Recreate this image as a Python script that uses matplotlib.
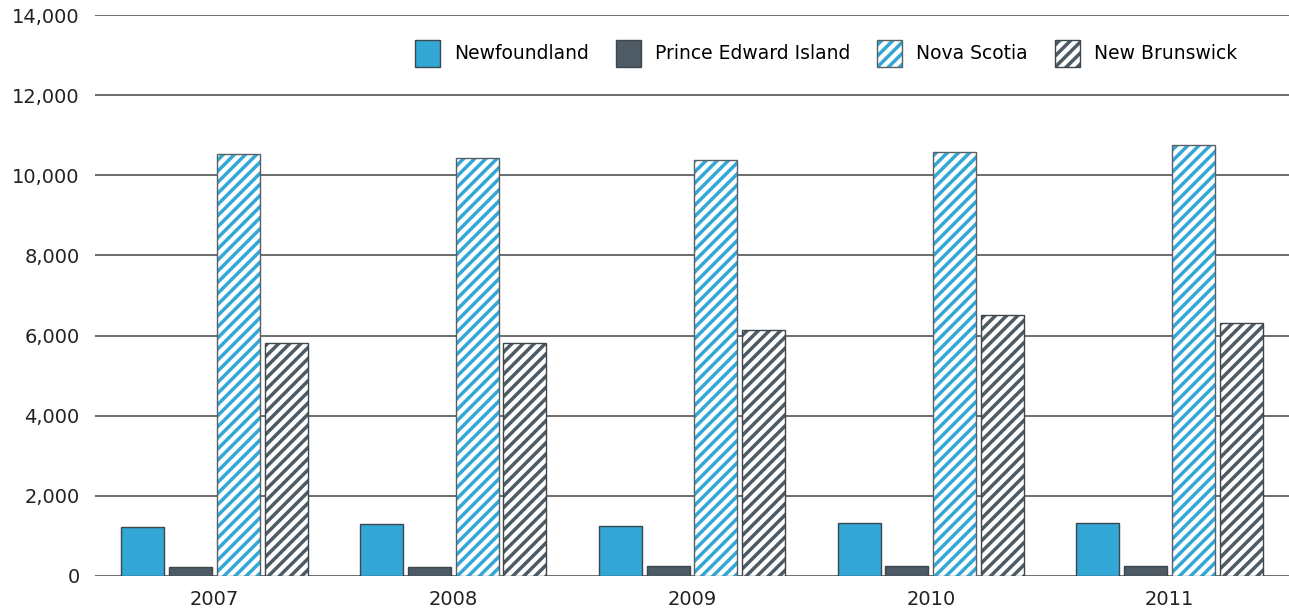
import numpy as np
import matplotlib.pyplot as plt
from matplotlib.patches import Patch
from matplotlib.legend_handler import HandlerTuple

plt.rcParams['font.family'] = ['DejaVu Sans']
plt.rcParams['hatch.linewidth'] = 2.5

years = ['2007', '2008', '2009', '2010', '2011']
newfoundland = [1220, 1300, 1250, 1320, 1320]
pei = [225, 225, 250, 250, 250]
nova_scotia = [10530, 10440, 10390, 10590, 10760]
new_brunswick = [5820, 5820, 6140, 6520, 6320]

blue = '#33a7d6'
slate = '#4e5b64'
outline = '#3b464d'

fig = plt.figure(figsize=(12.89, 6.13), dpi=100)
ax = fig.add_axes([0.0737, 0.0604, 0.9263, 0.9151])

x = np.arange(len(years))
w = 0.18

ax.bar(x - 0.3, newfoundland, w, color=blue, edgecolor=outline, linewidth=1, zorder=3)
ax.bar(x - 0.1, pei, w, color=slate, edgecolor=outline, linewidth=1, zorder=3)
# hatched bars: hatch colour comes from edgecolor, so the outline is drawn on top
ax.bar(x + 0.1, nova_scotia, w, color='white', edgecolor=blue, hatch='///', linewidth=0, zorder=3)
ax.bar(x + 0.1, nova_scotia, w, fill=False, edgecolor='#5a5f63', linewidth=1, zorder=4)
ax.bar(x + 0.3, new_brunswick, w, color='white', edgecolor=slate, hatch='///', linewidth=0, zorder=3)
ax.bar(x + 0.3, new_brunswick, w, fill=False, edgecolor=outline, linewidth=1, zorder=4)

ax.set_xlim(-0.5, 4.5)
ax.set_ylim(0, 14000)
ax.set_xticks(x)
ax.set_xticklabels(years)
yt = np.arange(0, 14001, 2000)
ax.set_yticks(yt)
ax.set_yticklabels([f'{v:,}' for v in yt])
ax.tick_params(axis='both', length=0, labelsize=14, colors='#222222')
ax.tick_params(axis='y', pad=11)
ax.tick_params(axis='x', pad=10)
for s in ax.spines.values():
    s.set_visible(False)
ax.yaxis.grid(True, color='#444444', linewidth=1.1, zorder=0)
ax.set_axisbelow(True)

handles = [
    Patch(facecolor=blue, edgecolor=outline, linewidth=1),
    Patch(facecolor=slate, edgecolor=outline, linewidth=1),
    (Patch(facecolor='white', edgecolor=blue, hatch='///', linewidth=0),
     Patch(fill=False, edgecolor='#5a5f63', linewidth=1)),
    (Patch(facecolor='white', edgecolor=slate, hatch='///', linewidth=0),
     Patch(fill=False, edgecolor=outline, linewidth=1)),
]
labels = ['Newfoundland', 'Prince Edward Island', 'Nova Scotia', 'New Brunswick']
fig.legend(handles, labels, loc='upper right', bbox_to_anchor=(0.960, 0.935),
           ncol=4, frameon=False, fontsize=13.5, handlelength=1.33, handleheight=1.85,
           handletextpad=0.75, columnspacing=1.45, borderpad=0, borderaxespad=0,
           handler_map={tuple: HandlerTuple(ndivide=1, pad=0)})

fig.savefig('out.png', dpi=100)
